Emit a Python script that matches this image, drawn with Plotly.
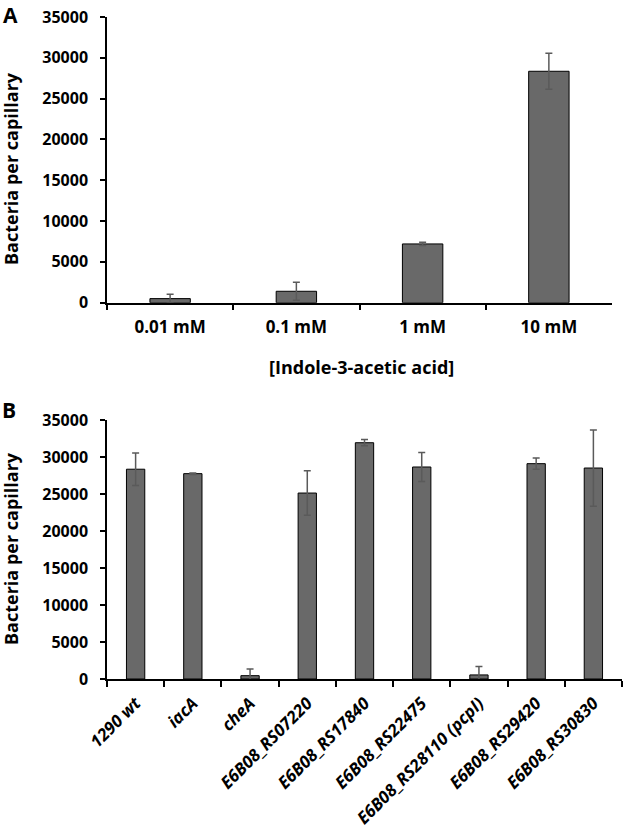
import plotly.graph_objects as go

# Panel A data
conc_labels = ["0.01 mM", "0.1 mM", "1 mM", "10 mM"]
conc_values = [500, 1400, 7200, 28350]
conc_errors = [550, 1100, 200, 2200]

# Panel B data
strain_labels = ["1290 wt", "iacA", "cheA", "E6B08_RS07220", "E6B08_RS17840",
                 "E6B08_RS22475", "E6B08_RS28110 (pcpI)", "E6B08_RS29420", "E6B08_RS30830"]
strain_values = [28350, 27750, 450, 25130, 31930, 28650, 550, 29100, 28510]
strain_errors = [2200, 100, 900, 3000, 420, 1950, 1150, 750, 5150]

y_ticks = [0, 5000, 10000, 15000, 20000, 25000, 30000, 35000]

W, H = 625, 832
FONT = "Open Sans"
BAR = "#696969"
ERR = "#5a5a5a"

def px_x(p):
    return p / W

def px_y(p):
    return 1 - p / H

fig = go.Figure()

fig.add_trace(go.Bar(
    x=conc_labels, y=conc_values, width=0.32,
    marker=dict(color=BAR, line=dict(color="black", width=1)),
    error_y=dict(type="data", array=conc_errors, visible=True, color=ERR, thickness=1.5, width=3.5),
    xaxis="x", yaxis="y", showlegend=False))

fig.add_trace(go.Bar(
    x=strain_labels, y=strain_values, width=0.32,
    marker=dict(color=BAR, line=dict(color="black", width=1)),
    error_y=dict(type="data", array=strain_errors, visible=True, color=ERR, thickness=1.5, width=3.5),
    xaxis="x2", yaxis="y2", showlegend=False))

yax_common = dict(
    range=[0, 35000], tickvals=y_ticks, tickformat="d", automargin=False,
    showgrid=False, zeroline=False, showline=True, linecolor="black", linewidth=1.5,
    ticks="outside", ticklen=5, tickwidth=1.5, tickcolor="black",
    tickfont=dict(family=FONT, size=16, color="black", weight="bold"),
    ticklabelstandoff=9, ticklabeloverflow="allow",
)
xax_common = dict(
    type="category", showgrid=False, zeroline=False, showline=True, automargin=False,
    linecolor="black", linewidth=1.5, ticks="outside", ticklen=6, tickwidth=1.5,
    tickcolor="black", tickson="boundaries", ticklabeloverflow="allow",
)

fig.update_layout(
    template="none",
    width=W, height=H, autosize=False,
    margin=dict(l=0, r=0, t=0, b=0),
    paper_bgcolor="white", plot_bgcolor="white",
    xaxis=dict(domain=[px_x(107), px_x(612)], anchor="y", range=[-0.5, 3.5],
               tickfont=dict(family=FONT, size=17, color="black", weight="bold"),
               ticklabelstandoff=8, **xax_common),
    yaxis=dict(domain=[px_y(302.7), px_y(17)], anchor="x", **yax_common),
    xaxis2=dict(domain=[px_x(107), px_x(622)], anchor="y2", range=[-0.5, 8.5],
                tickangle=-45,
                tickfont=dict(family=FONT, size=17, color="black", weight="bold", style="italic"),
                ticklabelstandoff=6, **xax_common),
    yaxis2=dict(domain=[px_y(679), px_y(420)], anchor="x2", **yax_common),
    annotations=[
        dict(text="A", x=px_x(1), y=px_y(-1), xref="paper", yref="paper",
             xanchor="left", yanchor="top", showarrow=False,
             font=dict(family=FONT, size=21, color="black", weight="bold")),
        dict(text="B", x=px_x(0), y=px_y(394), xref="paper", yref="paper",
             xanchor="left", yanchor="top", showarrow=False,
             font=dict(family=FONT, size=21, color="black", weight="bold")),
        dict(text="Bacteria per capillary", x=px_x(11), y=px_y(169), xref="paper", yref="paper",
             xanchor="center", yanchor="middle", textangle=-90, showarrow=False,
             font=dict(family=FONT, size=18, color="black", weight="bold")),
        dict(text="Bacteria per capillary", x=px_x(11), y=px_y(549), xref="paper", yref="paper",
             xanchor="center", yanchor="middle", textangle=-90, showarrow=False,
             font=dict(family=FONT, size=18, color="black", weight="bold")),
        dict(text="[Indole-3-acetic acid]", x=px_x(361), y=px_y(367), xref="paper", yref="paper",
             xanchor="center", yanchor="middle", showarrow=False,
             font=dict(family=FONT, size=18, color="black", weight="bold")),
    ],
)

fig.write_html("out.html", config={"displayModeBar": False},
               post_script="document.body.style.margin='0';document.body.style.overflow='hidden';")
